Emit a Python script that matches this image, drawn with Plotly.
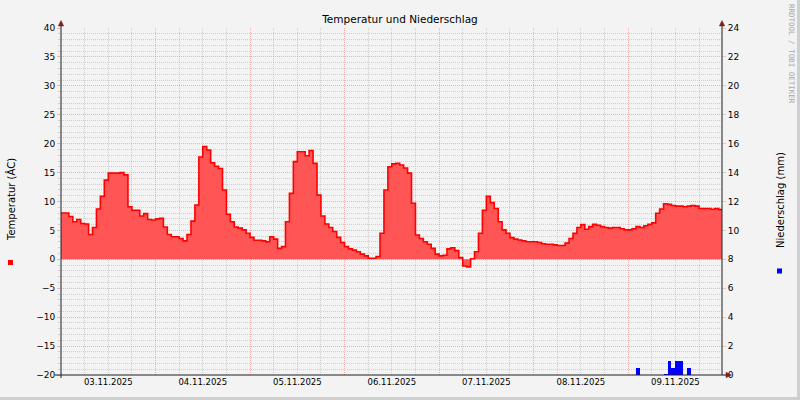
import plotly.graph_objects as go
import pandas as pd

# ---------------- data ----------------
start_time = "2025-11-03 00:00"
end_time = "2025-11-09 23:50"

# hourly temperature (°C), 03.11.2025 00:00 ... 09.11.2025 23:00
temperature = [
    8.0, 8.0, 7.4, 6.5, 6.9, 6.2, 6.1, 4.3, 5.5, 8.7, 10.9, 13.7, 14.9, 14.9, 14.9, 15.0, 14.6, 9.1, 8.5, 8.5, 7.5, 7.9, 6.9, 6.8,
    7.0, 7.1, 5.6, 4.3, 3.9, 3.9, 3.6, 3.2, 4.3, 6.6, 9.4, 17.7, 19.5, 18.9, 16.7, 16.1, 15.7, 12.0, 7.8, 6.5, 5.6, 5.4, 5.1, 4.5,
    3.8, 3.3, 3.3, 3.2, 3.05, 3.9, 3.5, 1.9, 2.2, 6.5, 11.4, 16.9, 18.6, 18.6, 17.9, 18.8, 16.6, 11.1, 7.5, 6.1, 5.5, 4.8, 3.8, 2.9,
    2.2, 1.8, 1.6, 1.3, 0.9, 0.6, 0.2, 0.2, 0.5, 4.5, 12.0, 16.0, 16.5, 16.6, 16.3, 15.8, 14.9, 9.7, 4.2, 3.6, 3.05, 2.6, 1.9, 0.9,
    0.6, 0.7, 1.8, 2.0, 1.5, 0.3, -1.15, -1.3, 0.1, 1.3, 4.5, 8.5, 10.9, 9.8, 8.8, 6.5, 5.1, 4.5, 3.75, 3.5, 3.35, 3.2, 3.05, 3.05,
    3.05, 2.9, 2.7, 2.6, 2.6, 2.5, 2.4, 2.4, 2.8, 3.6, 4.5, 5.5, 6.0, 5.2, 5.65, 6.05, 5.9, 5.65, 5.5, 5.4, 5.5, 5.5, 5.3, 5.1,
    5.1, 5.3, 5.65, 5.5, 5.8, 6.05, 6.3, 7.96, 8.7, 9.6, 9.5, 9.3, 9.2, 9.2, 9.1, 9.2, 9.3, 9.2, 8.8, 8.8, 8.8, 8.65, 8.8, 8.6,
]

# hourly precipitation (mm) - hour index from start and amount
precip_hours = [146, 153, 154, 155, 156, 157, 159]
precip_mm = [0.5, 0.07, 1.0, 0.5, 1.0, 1.0, 0.5]

title_text = "Temperatur und Niederschlag"
left_title = "Temperatur (ÂC)"
right_title = "Niederschlag (mm)"
watermark = "RRDTOOL / TOBI OETIKER"

# ---------------- build ----------------
base = pd.Timestamp(start_time)
t_x = [base + pd.Timedelta(hours=h) for h in range(len(temperature) + 1)]
t_y = temperature + [temperature[-1]]
p_x = [base + pd.Timedelta(hours=h + 0.5) for h in precip_hours]

FONT = "DejaVu Sans"
L, T, W, H = 61, 28, 661, 347
R = 800 - L - W
B = 400 - T - H


def PX(px):
    return (px - L) / W


def PY(py):
    return (T + H - py) / H


MGRID = "rgba(235,110,110,0.5)"
GRID = "rgba(150,150,150,0.38)"
AXIS = "#1F1F1F"
ARROW = "#7F1F1F"

fig = go.Figure()
fig.add_trace(go.Scatter(
    x=t_x, y=t_y, mode="lines", line=dict(color="#FF0000", width=1.6, shape="hv"),
    fill="tozeroy", fillcolor="#FF5555", hoverinfo="skip", showlegend=False,
))
fig.add_trace(go.Bar(
    x=p_x, y=precip_mm, yaxis="y2", width=3600000, marker=dict(color="#0000FF", line=dict(width=0)),
    hoverinfo="skip", showlegend=False,
))

shapes = []
# axes
shapes.append(dict(type="line", xref="paper", yref="paper", x0=PX(55), x1=PX(727), y0=PY(375), y1=PY(375),
                   line=dict(color=AXIS, width=1)))
shapes.append(dict(type="line", xref="paper", yref="paper", x0=PX(61), x1=PX(61), y0=PY(378), y1=PY(23),
                   line=dict(color=AXIS, width=1)))
shapes.append(dict(type="line", xref="paper", yref="paper", x0=PX(722), x1=PX(722), y0=PY(375), y1=PY(23),
                   line=dict(color=AXIS, width=1)))


def tri(pts):
    d = "M " + " L ".join(f"{PX(a)},{PY(b)}" for a, b in pts) + " Z"
    return dict(type="path", xref="paper", yref="paper", path=d, fillcolor=ARROW, line=dict(color=ARROW, width=0.5))


shapes.append(tri([(61, 20.5), (58.3, 26), (63.7, 26)]))
shapes.append(tri([(722, 20.5), (719.3, 26), (724.7, 26)]))
shapes.append(tri([(731.5, 375), (726, 372.3), (726, 377.7)]))
# legend squares
shapes.append(dict(type="rect", xref="paper", yref="paper", x0=PX(8), x1=PX(13), y0=PY(265), y1=PY(260),
                   fillcolor="#FF0000", line=dict(width=0)))
shapes.append(dict(type="rect", xref="paper", yref="paper", x0=PX(777), x1=PX(782), y0=PY(273.5), y1=PY(268.5),
                   fillcolor="#0000FF", line=dict(width=0)))
# frame shading
shapes.append(dict(type="rect", xref="paper", yref="paper", x0=PX(797), x1=PX(800), y0=PY(400), y1=PY(0),
                   fillcolor="#CFCFCF", line=dict(width=0)))
shapes.append(dict(type="rect", xref="paper", yref="paper", x0=PX(0), x1=PX(800), y0=PY(400), y1=PY(397),
                   fillcolor="#CFCFCF", line=dict(width=0)))

annotations = [
    dict(text=left_title, xref="paper", yref="paper", x=PX(11), y=PY(200), showarrow=False, textangle=-90,
         xanchor="center", yanchor="middle", font=dict(family=FONT, size=10, color="#000000")),
    dict(text=right_title, xref="paper", yref="paper", x=PX(780), y=PY(200), showarrow=False, textangle=-90,
         xanchor="center", yanchor="middle", font=dict(family=FONT, size=10, color="#000000")),
    dict(text=watermark, xref="paper", yref="paper", x=PX(791), y=PY(54), showarrow=False, textangle=90,
         xanchor="center", yanchor="middle", font=dict(family="DejaVu Sans Mono", size=7.5, color="#A8A8A8")),
]

fig.update_layout(
    width=800, height=400,
    margin=dict(l=L, r=R, t=T, b=B, pad=0),
    paper_bgcolor="#F3F3F3", plot_bgcolor="#F3F3F3",
    font=dict(family=FONT, size=9, color="#000000"),
    title=dict(text=title_text, x=0.5, xref="container", xanchor="center", y=1 - 19.5 / 400, yref="container",
               yanchor="middle", font=dict(family=FONT, size=10.5, color="#000000")),
    bargap=0,
    showlegend=False,
    shapes=shapes,
    annotations=annotations,
    xaxis=dict(
        type="date", range=[start_time, end_time],
        dtick=86400000, tick0="2025-11-03", tickformat="%d.%m.%Y", ticklabelmode="period",
        showgrid=True, gridcolor=MGRID, griddash="1px,1px", gridwidth=1,
        minor=dict(dtick=6 * 3600000, tick0="2025-11-03", showgrid=True, gridcolor=GRID, griddash="1px,1px"),
        showline=False, zeroline=False, ticks="", tickfont=dict(size=8.5),
    ),
    yaxis=dict(
        range=[-20, 40], dtick=5, tick0=0,
        showgrid=True, gridcolor=MGRID, griddash="1px,1px",
        minor=dict(dtick=1, showgrid=True, gridcolor=GRID, griddash="1px,1px", ticks="outside", ticklen=2,
                   tickcolor=GRID),
        ticks="outside", ticklen=3, tickcolor=MGRID,
        showline=False, zeroline=False, tickfont=dict(size=9),
    ),
    yaxis2=dict(
        range=[0, 24], dtick=2, tick0=0, overlaying="y", side="right",
        showgrid=False, zeroline=False, showline=False,
        ticks="outside", ticklen=3, tickcolor=GRID, tickfont=dict(size=9),
    ),
)

fig.write_html(
    "out.html",
    config={"displayModeBar": False, "staticPlot": True},
    post_script="document.body.style.margin='0px';document.body.style.padding='0px';"
                "document.body.style.overflow='hidden';document.body.style.background='#F3F3F3';",
)
